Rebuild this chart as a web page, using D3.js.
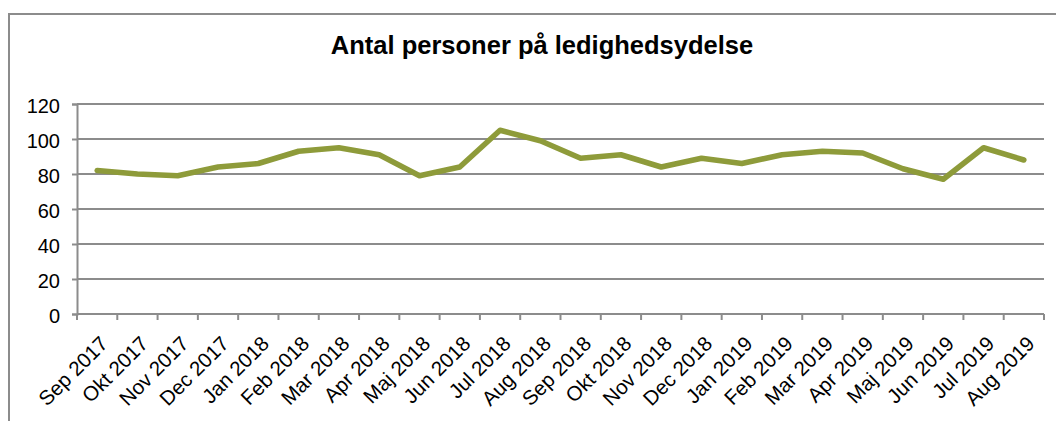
<!DOCTYPE html>
<html>
<head>
<meta charset="utf-8">
<script src="https://cdn.jsdelivr.net/npm/d3@7"></script>
<style>
    body { margin: 0; background: #fff; }
    svg { display: block; font-family: "Liberation Sans", Arial, sans-serif; }
</style>
</head>
<body>
<div id="chart"></div>
<script>
// data
let months = ['Sep 2017', 'Okt 2017', 'Nov 2017', 'Dec 2017', 'Jan 2018', 'Feb 2018',
    'Mar 2018', 'Apr 2018', 'Maj 2018', 'Jun 2018', 'Jul 2018', 'Aug 2018',
    'Sep 2018', 'Okt 2018', 'Nov 2018', 'Dec 2018', 'Jan 2019', 'Feb 2019',
    'Mar 2019', 'Apr 2019', 'Maj 2019', 'Jun 2019', 'Jul 2019', 'Aug 2019'];
let persons = [82, 80, 79, 84, 86, 93, 95, 91, 79, 84, 105, 99,
    89, 91, 84, 89, 86, 91, 93, 92, 83, 77, 95, 88];
let yTicks = [0, 20, 40, 60, 80, 100, 120];
let title = 'Antal personer på ledighedsydelse';

let width = 1056,
    height = 421;
let plot = { left: 77, right: 1044, top: 104, bottom: 314 };

let svg = d3.select('#chart')
    .append('svg')
    .attr('width', width)
    .attr('height', height);

// chart area border (only top and left show)
svg.append('rect')
    .attr('x', 9)
    .attr('y', 14)
    .attr('width', width + 10)
    .attr('height', height + 10)
    .attr('fill', '#fff')
    .attr('stroke', '#8c8c8c')
    .attr('stroke-width', 2);

svg.append('text')
    .attr('x', 542)
    .attr('y', 54)
    .attr('text-anchor', 'middle')
    .style('font-size', '25.5px')
    .style('font-weight', 'bold')
    .text(title);

let x = d3.scaleBand()
    .domain(months)
    .range([plot.left, plot.right]);

let y = d3.scaleLinear()
    .domain([0, 120])
    .range([plot.bottom, plot.top]);

// gridlines
svg.append('g')
    .selectAll('line')
    .data(yTicks.filter(d => d > 0))
    .enter()
    .append('line')
    .attr('x1', plot.left)
    .attr('x2', plot.right)
    .attr('y1', d => y(d))
    .attr('y2', d => y(d))
    .attr('stroke', '#8c8c8c')
    .attr('stroke-width', 2);

// y axis
let yAxis = svg.append('g')
    .attr('transform', 'translate(' + plot.left + ',0)')
    .call(d3.axisLeft(y).tickValues(yTicks).tickSize(5).tickPadding(12));
yAxis.selectAll('.domain, line')
    .attr('stroke', '#8c8c8c')
    .attr('stroke-width', 2);
yAxis.selectAll('text')
    .attr('fill', '#000')
    .attr('dy', '0.4em')
    .style('font-size', '20px')
    .style('font-family', '"Liberation Sans", Arial, sans-serif');

// x axis: ticks between the categories
let xAxis = svg.append('g')
    .attr('transform', 'translate(0,' + plot.bottom + ')');
xAxis.append('line')
    .attr('x1', plot.left)
    .attr('x2', plot.right)
    .attr('stroke', '#8c8c8c')
    .attr('stroke-width', 2);
xAxis.selectAll('line.tick')
    .data(d3.range(months.length + 1))
    .enter()
    .append('line')
    .attr('class', 'tick')
    .attr('x1', i => plot.left + i * x.step())
    .attr('x2', i => plot.left + i * x.step())
    .attr('y1', 0)
    .attr('y2', 6)
    .attr('stroke', '#8c8c8c')
    .attr('stroke-width', 2);
xAxis.selectAll('text')
    .data(months)
    .enter()
    .append('text')
    .attr('text-anchor', 'end')
    .attr('transform', d => 'translate(' + (x(d) + x.bandwidth() / 2 + 12) + ',31) rotate(-45)')
    .style('font-size', '20.5px')
    .text(d => d);

// the line
let line = d3.line()
    .x((d, i) => x(months[i]) + x.bandwidth() / 2)
    .y(d => y(d));

svg.append('path')
    .datum(persons)
    .attr('d', line)
    .attr('fill', 'none')
    .attr('stroke', '#8e9b3a')
    .attr('stroke-width', 5.5)
    .attr('stroke-linejoin', 'round')
    .attr('stroke-linecap', 'round');
</script>
</body>
</html>
